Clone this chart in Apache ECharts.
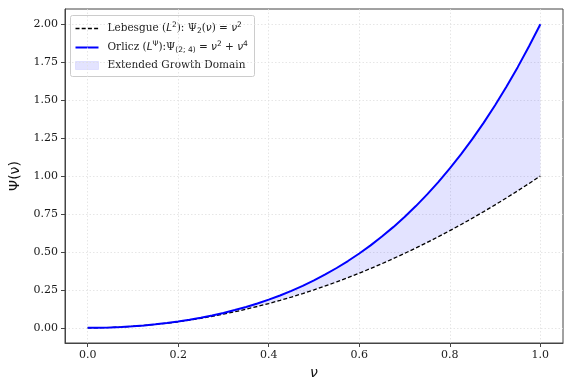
<!DOCTYPE html>
<html><head><meta charset="utf-8">
<script src="https://cdn.jsdelivr.net/npm/echarts@6/dist/echarts.min.js"></script>
<style>html,body{margin:0;padding:0;background:#fff}#c{width:579px;height:385px}</style>
</head><body><div id="c"></div>
<script>
const nu = [0,0.025,0.05,0.075,0.1,0.125,0.15,0.175,0.2,0.225,0.25,0.275,0.3,0.325,0.35,0.375,0.4,0.425,0.45,0.475,0.5,0.525,0.55,0.575,0.6,0.625,0.65,0.675,0.7,0.725,0.75,0.775,0.8,0.825,0.85,0.875,0.9,0.925,0.95,0.975,1.0];
const lebesgue = [0,0.0006,0.0025,0.0056,0.01,0.0156,0.0225,0.0306,0.04,0.0506,0.0625,0.0756,0.09,0.1056,0.1225,0.1406,0.16,0.1806,0.2025,0.2256,0.25,0.2756,0.3025,0.3306,0.36,0.3906,0.4225,0.4556,0.49,0.5256,0.5625,0.6006,0.64,0.6806,0.7225,0.7656,0.81,0.8556,0.9025,0.9506,1.0];
const orlicz = [0,0.0006,0.0025,0.0057,0.0101,0.0159,0.0230,0.0315,0.0416,0.0532,0.0664,0.0813,0.0981,0.1168,0.1375,0.1604,0.1856,0.2132,0.2435,0.2765,0.3125,0.3516,0.3940,0.4399,0.4896,0.5432,0.6010,0.6632,0.7301,0.8018,0.8789,0.9613,1.0496,1.1438,1.2445,1.3518,1.4661,1.5876,1.7170,1.8543,2.0];
const xTicks = [0,0.2,0.4,0.6,0.8,1.0];
const yTicks = [0,0.25,0.5,0.75,1.0,1.25,1.5,1.75,2.0];

const chart = echarts.init(document.getElementById('c'));
const pair = (a) => nu.map((x,i)=>[x,a[i]]);
const tickFont = {fontFamily:'DejaVu Serif', fontSize:11, color:'#1a1a1a'};
const axisCommon = {
  axisLine:{show:true,onZero:false,lineStyle:{color:'#444'}},
  splitLine:{show:true,lineStyle:{type:[1.5,2],color:'#e0e0e0',width:0.8}}
};
const rich = {n:{fontFamily:'DejaVu Serif',fontSize:10.5,lineHeight:14,fill:'#222'},
  i:{fontFamily:'DejaVu Sans',fontStyle:'italic',fontSize:10.5,lineHeight:14,fill:'#222'},
  sup:{fontFamily:'DejaVu Sans',fontSize:7.5,lineHeight:7,verticalAlign:'top',fill:'#222'},
  sub:{fontFamily:'DejaVu Sans',fontSize:7.5,lineHeight:7,verticalAlign:'bottom',fill:'#222'}};
chart.setOption({
  animation:false,
  grid:{left:65,right:16,top:9,bottom:42,show:true,borderColor:'#444',borderWidth:1,backgroundColor:'transparent'},
  xAxis:{type:'value',min:-0.05,max:1.05,
    name:'ν',nameLocation:'middle',nameGap:22,
    nameTextStyle:{fontFamily:'DejaVu Sans',fontStyle:'italic',fontSize:14,color:'#111'},
    ...axisCommon,
    axisTick:{show:true,customValues:xTicks,length:4,lineStyle:{color:'#444'}},
    axisLabel:{customValues:xTicks,formatter:v=>v.toFixed(1),margin:7,...tickFont}},
  yAxis:{type:'value',min:-0.1,max:2.1,
    name:'Ψ(ν)',nameLocation:'middle',nameGap:40,nameRotate:90,
    nameTextStyle:{fontFamily:'DejaVu Sans',fontSize:14,color:'#111'},
    ...axisCommon,
    axisTick:{show:true,customValues:yTicks,length:4,lineStyle:{color:'#444'}},
    axisLabel:{customValues:yTicks,formatter:v=>v.toFixed(2),margin:7,...tickFont}},
  series:[
    {type:'custom',silent:true,z:1,data:[0],
     renderItem:(params,api)=>{
       const top = nu.map((x,i)=>api.coord([x,orlicz[i]]));
       const bot = nu.map((x,i)=>api.coord([x,lebesgue[i]])).reverse();
       return {type:'polygon',shape:{points:top.concat(bot)},style:{fill:'rgba(0,0,255,0.11)',stroke:'none'}};
     }},
    {type:'line',data:pair(lebesgue),symbol:'none',lineStyle:{color:'#000',width:1.3,type:[4,2.2]},z:3},
    {type:'line',data:pair(orlicz),symbol:'none',lineStyle:{color:'#0000ff',width:2},z:4}
  ],
  graphic:[{type:'group',left:70,top:15,z:10,children:[
    {type:'rect',shape:{x:0,y:0,width:184,height:61,r:2},style:{fill:'rgba(255,255,255,0.85)',stroke:'#ccc',lineWidth:1}},
    {type:'line',shape:{x1:5,y1:13,x2:28,y2:13},style:{stroke:'#000',lineWidth:1.3,lineDash:[4,2.2]}},
    {type:'line',shape:{x1:5,y1:32,x2:28,y2:32},style:{stroke:'#0000ff',lineWidth:2}},
    {type:'rect',shape:{x:5,y:46,width:23,height:8},style:{fill:'rgba(0,0,255,0.11)',stroke:'rgba(0,0,255,0.15)',lineWidth:0.5}},
    {type:'text',x:37,y:13,style:{text:'{n|Lebesgue (}{i|L}{sup|2}{n|): Ψ}{sub|2}{n|(}{i|ν}{n|) = }{i|ν}{sup|2}',verticalAlign:'middle',rich}},
    {type:'text',x:37,y:32,style:{text:'{n|Orlicz (}{i|L}{sup|Ψ}{n|):Ψ}{sub|(2; 4)}{n| = }{i|ν}{sup|2}{n| + }{i|ν}{sup|4}',verticalAlign:'middle',rich}},
    {type:'text',x:37,y:50,style:{text:'Extended Growth Domain',verticalAlign:'middle',fontFamily:'DejaVu Serif',fontSize:10.5,fill:'#222'}}
  ]}]
});
</script></body></html>
